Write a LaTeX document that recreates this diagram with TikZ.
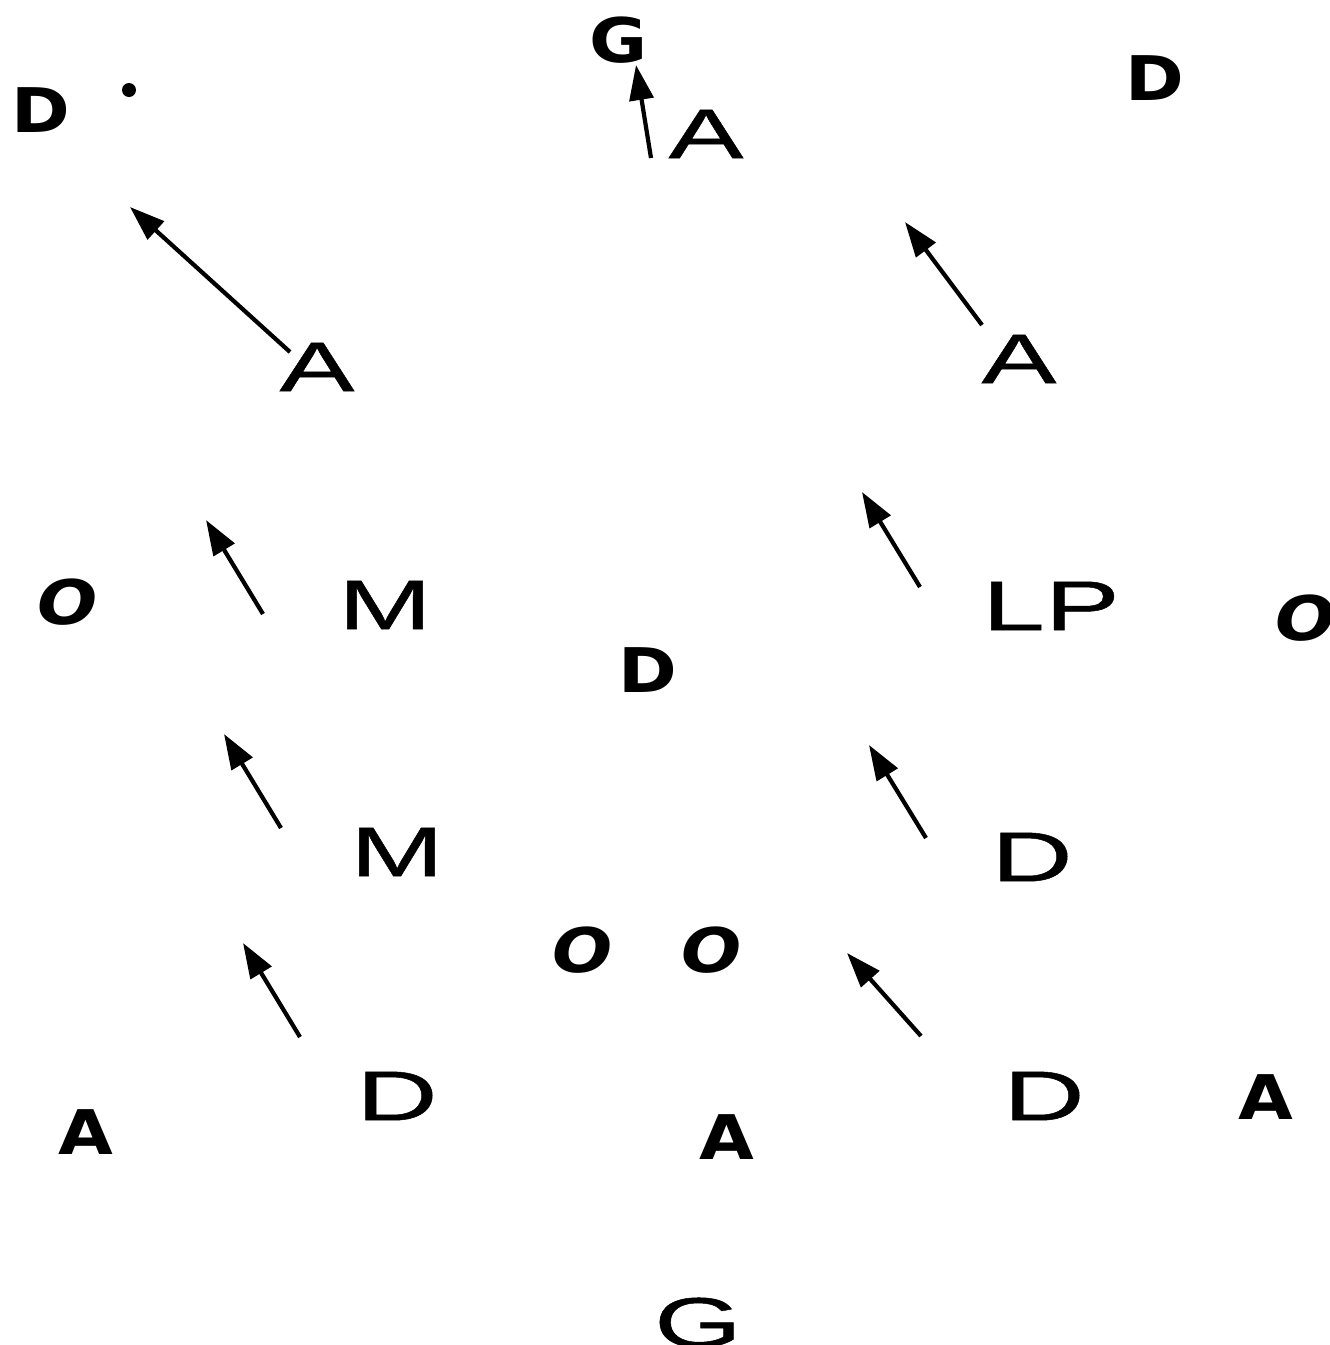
\documentclass[tikz,border=0pt]{standalone}
\usepackage{fontspec}
\usepackage{tikz}
\usetikzlibrary{arrows.meta}
\newfontfamily\widefont[FakeStretch=1.6,FakeBold=0.7]{Liberation Sans}
\newfontfamily\handfont[FakeStretch=1.15]{DejaVu Sans Bold}
\newfontfamily\handobl[FakeStretch=1.15]{DejaVu Sans Bold Oblique}

\tikzset{
    widel/.style={inner sep=0pt, font=\widefont\fontsize{20}{20}\selectfont},
    handl/.style={inner sep=0pt, font=\handfont\fontsize{17.5}{17.5}\selectfont},
    hando/.style={inner sep=0pt, font=\handobl\fontsize{17.5}{17.5}\selectfont},
    arr/.style={line width=1.2pt, -{Triangle[length=3.5mm,width=2.4mm]}}
}

\begin{document}
\begin{tikzpicture}[x=0.01cm, y=-0.01cm]
    \useasboundingbox (0,0) rectangle (1330,1345);

    % letters, top row
    \node[handl] (dtl) at (41,110) {D};
    \fill (129,90) circle (7);
    \node[handl] (gtop) at (619,40) {G};
    \node[widel] (atop) at (706,134) {A};
    \node[handl] (dtr) at (1155,78) {D};

    \node[widel] (al) at (317,367) {A};
    \node[widel] (ar) at (1019,359) {A};

    % middle
    \node[hando] (ol) at (68,602) {O};
    \node[widel] (m1) at (385,605) {M};
    \node[widel] (lp) at (1051,606) {LP};
    \node[hando] (or) at (1306,618) {O};
    \node[handl] (dmid) at (648,670) {D};

    \node[widel] (m2) at (397,852) {M};
    \node[widel] (d1) at (1032,857) {D};
    \node[hando] (o1) at (583,950) {O};
    \node[hando] (o2) at (712,950) {O};

    % bottom
    \node[widel] (d2) at (397,1096) {D};
    \node[widel] (d3) at (1044,1096) {D};
    \node[handl] (abr) at (1266,1097) {A};
    \node[handl] (abl) at (86,1132) {A};
    \node[handl] (abc) at (727,1137) {A};
    \node[widel, anchor=north] (gbot) at (698,1297) {G};

    % arrow ends
    \coordinate (s1) at (651,158);  \coordinate (e1) at (636,65);
    \coordinate (s2) at (290,352);  \coordinate (e2) at (130,207);
    \coordinate (s3) at (982,325);  \coordinate (e3) at (905,222);
    \coordinate (s4) at (263,614);  \coordinate (e4) at (206,520);
    \coordinate (s5) at (920,587);  \coordinate (e5) at (862,492);
    \coordinate (s6) at (281,828);  \coordinate (e6) at (224,734);
    \coordinate (s7) at (926,838);  \coordinate (e7) at (869,745);
    \coordinate (s8) at (300,1037); \coordinate (e8) at (243,943);
    \coordinate (s9) at (921,1036); \coordinate (e9) at (847,953);

    \foreach \i in {1,...,9} {\draw[arr] (s\i) -- (e\i);}
\end{tikzpicture}
\end{document}
